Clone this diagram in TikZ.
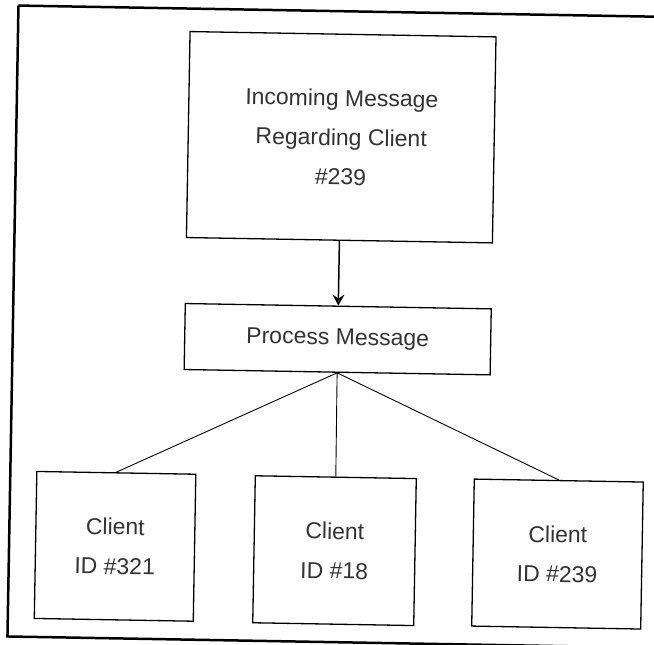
\documentclass[tikz,border=0pt]{standalone}
\usepackage{fontspec}
\setmainfont{Liberation Sans}
\usetikzlibrary{arrows.meta}
\tikzset{
  box/.style={draw=black, line width=1.3pt, inner sep=0pt, align=center,
    text=black!80, font={\fontsize{23}{39.5}\selectfont}},
  link/.style={draw=black, line width=0.9pt},
  flow/.style={draw=black, line width=1.5pt,
    -{Stealth[length=11pt,width=12pt,inset=4pt,fill=black!70]}},
  frame/.style={draw=black, line width=2.5pt}
}
\begin{document}
\begin{tikzpicture}[x=1pt,y=-1pt]
\useasboundingbox (0,0) rectangle (654,645);
\clip (0,0) rectangle (654,645);
\begin{scope}[rotate around={-1:(327,322)}, transform shape]
  \draw[frame] (13,11) -- (13,642) -- (720,642) (13,11) -- (720,11);
  \node[box, minimum width=306pt, minimum height=206pt] (top) at (338,137)
    {Incoming Message\\Regarding Client\\\#239};
  \node[box, minimum width=306pt, minimum height=66pt] (proc) at (338,339)
    {Process Message};
  \node[box, minimum width=159pt, minimum height=147pt] (c1) at (119,550)
    {Client\\ID \#321};
  \node[box, minimum width=161pt, minimum height=147pt] (c2) at (338.5,550.5)
    {Client\\ID \#18};
  \node[box, minimum width=169pt, minimum height=147pt] (c3) at (561.5,550)
    {Client\\ID \#239};
  \draw[flow] (top.south) -- (proc.north);
  \draw[link] (proc.south) -- (c1.north);
  \draw[link] (proc.south) -- (c2.north);
  \draw[link] (proc.south) -- (c3.north);
\end{scope}
\end{tikzpicture}
\end{document}
